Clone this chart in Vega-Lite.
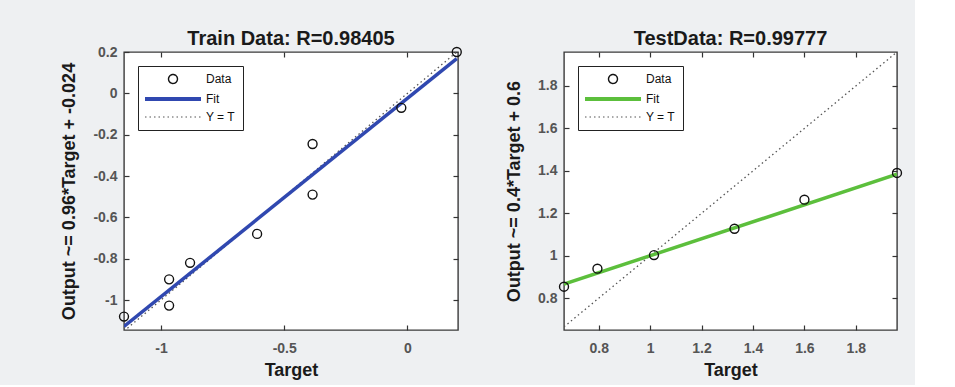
{
  "$schema": "https://vega.github.io/schema/vega-lite/v6.json",
  "background": "#eef0f2",
  "padding": {"left": 60, "top": 28, "right": 10, "bottom": 5},
  "bounds": "flush",
  "spacing": 106,
  "datasets": {
    "train": [
      {"series": "Data", "t": 0.2, "o": 0.2},
      {"series": "Data", "t": -0.025, "o": -0.07},
      {"series": "Data", "t": -0.385, "o": -0.245},
      {"series": "Data", "t": -0.385, "o": -0.49},
      {"series": "Data", "t": -0.61, "o": -0.68},
      {"series": "Data", "t": -0.882, "o": -0.82},
      {"series": "Data", "t": -0.967, "o": -0.9},
      {"series": "Data", "t": -0.967, "o": -1.027},
      {"series": "Data", "t": -1.15, "o": -1.08},
      {"series": "Fit", "t": -1.15, "o": -1.128},
      {"series": "Fit", "t": 0.2, "o": 0.168},
      {"series": "Y = T", "t": -1.15, "o": -1.15},
      {"series": "Y = T", "t": 0.2, "o": 0.2}
    ],
    "test": [
      {"series": "Data", "t": 1.96, "o": 1.39},
      {"series": "Data", "t": 1.6, "o": 1.264},
      {"series": "Data", "t": 1.328, "o": 1.127},
      {"series": "Data", "t": 1.015, "o": 1.003},
      {"series": "Data", "t": 0.795, "o": 0.939},
      {"series": "Data", "t": 0.665, "o": 0.854},
      {"series": "Fit", "t": 0.665, "o": 0.866},
      {"series": "Fit", "t": 1.96, "o": 1.384},
      {"series": "Y = T", "t": 0.665, "o": 0.665},
      {"series": "Y = T", "t": 1.96, "o": 1.96}
    ]
  },
  "config": {
    "font": "Liberation Sans",
    "view": {"stroke": "#3a3a3a", "strokeWidth": 1.4, "fill": "white"},
    "title": {"fontSize": 20, "fontWeight": "bold", "color": "#1a1a1a", "anchor": "middle"},
    "axis": {
      "grid": false, "domain": false, "tickSize": -5, "tickColor": "#333", "tickWidth": 1.2,
      "labelFontSize": 14, "labelFontWeight": "bold", "labelColor": "#555",
      "titleFontSize": 18, "titleFontWeight": "bold", "titleColor": "#1a1a1a"
    },
    "axisX": {"labelPadding": 16, "titlePadding": 6},
    "axisY": {"labelPadding": 12, "titlePadding": 14}
  },
  "resolve": {"scale": {"x": "independent", "y": "independent", "color": "independent"}},
  "hconcat": [
    {
      "width": 334, "height": 278,
      "title": {"text": "Train Data: R=0.98405", "offset": -4},
      "data": {"name": "train"},
      "layer": [
        {
          "transform": [{"filter": "datum.series === 'Y = T'"}],
          "mark": {"type": "line", "clip": true, "strokeDash": [1.5, 3], "strokeWidth": 1.3},
          "encoding": {
            "x": {"field": "t", "type": "quantitative", "scale": {"domain": [-1.15, 0.205], "nice": false, "zero": false},
                  "axis": {"orient": "top", "labels": false, "title": null, "values": [-1, -0.5, 0]}},
            "y": {"field": "o", "type": "quantitative", "scale": {"domain": [-1.145, 0.2], "nice": false, "zero": false},
                  "axis": {"orient": "right", "labels": false, "title": null, "values": [-1, -0.8, -0.6, -0.4, -0.2, 0, 0.2]}},
            "color": {"field": "series", "type": "nominal",
              "scale": {"domain": ["Data", "Fit", "Y = T"], "range": ["#111111", "#3048b0", "#555555"]},
              "legend": {
                "title": null, "orient": "top-left", "offset": 14, "padding": 7,
                "strokeColor": "#222", "fillColor": "white", "cornerRadius": 0,
                "symbolSize": 3136, "symbolType": "stroke",
                "labelFontSize": 12, "labelColor": "#111", "labelOffset": 4, "rowPadding": 4,
                "encode": {
                  "symbols": {"update": {
                    "x": {"value": 28},
                    "shape": {"signal": "datum.value === 'Data' ? 'circle' : 'stroke'"},
                    "size": {"signal": "datum.value === 'Data' ? 80 : 3136"},
                    "strokeWidth": {"signal": "datum.value === 'Fit' ? 4 : (datum.value === 'Data' ? 1.4 : 1.2)"},
                    "strokeDash": {"signal": "datum.value === 'Y = T' ? [1.5, 3] : [1, 0]"},
                    "stroke": {"signal": "datum.value === 'Fit' ? '#3048b0' : (datum.value === 'Data' ? '#111111' : '#555555')"},
                    "fill": {"value": "transparent"},
                    "opacity": {"value": 1}
                  }},
                  "labels": {"update": {"x": {"value": 61}}}
                }
              }}
          }
        },
        {
          "transform": [{"filter": "datum.series === 'Fit'"}],
          "mark": {"type": "line", "clip": true, "strokeWidth": 3.5},
          "encoding": {
            "x": {"field": "t", "type": "quantitative", "axis": null},
            "y": {"field": "o", "type": "quantitative", "axis": null},
            "color": {"field": "series", "type": "nominal"}
          }
        },
        {
          "transform": [{"filter": "datum.series === 'Data'"}],
          "mark": {"type": "point", "filled": false, "size": 80, "strokeWidth": 1.4, "opacity": 1},
          "encoding": {
            "x": {"field": "t", "type": "quantitative",
                  "axis": {"orient": "bottom", "title": "Target", "values": [-1, -0.5, 0], "labelExpr": "'' + datum.value"}},
            "y": {"field": "o", "type": "quantitative",
                  "axis": {"orient": "left", "title": "Output ~= 0.96*Target + -0.024", "values": [-1, -0.8, -0.6, -0.4, -0.2, 0, 0.2], "labelExpr": "'' + datum.value"}},
            "color": {"field": "series", "type": "nominal"}
          }
        }
      ]
    },
    {
      "width": 333, "height": 278,
      "title": {"text": "TestData: R=0.99777", "offset": 2},
      "data": {"name": "test"},
      "layer": [
        {
          "transform": [{"filter": "datum.series === 'Y = T'"}],
          "mark": {"type": "line", "clip": true, "strokeDash": [1.5, 3], "strokeWidth": 1.3},
          "encoding": {
            "x": {"field": "t", "type": "quantitative", "scale": {"domain": [0.665, 1.96], "nice": false, "zero": false},
                  "axis": {"orient": "top", "labels": false, "title": null, "values": [0.8, 1, 1.2, 1.4, 1.6, 1.8]}},
            "y": {"field": "o", "type": "quantitative", "scale": {"domain": [0.65, 1.96], "nice": false, "zero": false},
                  "axis": {"orient": "right", "labels": false, "title": null, "values": [0.8, 1, 1.2, 1.4, 1.6, 1.8]}},
            "color": {"field": "series", "type": "nominal",
              "scale": {"domain": ["Data", "Fit", "Y = T"], "range": ["#111111", "#5cbf3c", "#555555"]},
              "legend": {
                "title": null, "orient": "top-left", "offset": 14, "padding": 7,
                "strokeColor": "#222", "fillColor": "white", "cornerRadius": 0,
                "symbolSize": 3136, "symbolType": "stroke",
                "labelFontSize": 12, "labelColor": "#111", "labelOffset": 4, "rowPadding": 4,
                "encode": {
                  "symbols": {"update": {
                    "x": {"value": 28},
                    "shape": {"signal": "datum.value === 'Data' ? 'circle' : 'stroke'"},
                    "size": {"signal": "datum.value === 'Data' ? 80 : 3136"},
                    "strokeWidth": {"signal": "datum.value === 'Fit' ? 4 : (datum.value === 'Data' ? 1.4 : 1.2)"},
                    "strokeDash": {"signal": "datum.value === 'Y = T' ? [1.5, 3] : [1, 0]"},
                    "stroke": {"signal": "datum.value === 'Fit' ? '#5cbf3c' : (datum.value === 'Data' ? '#111111' : '#555555')"},
                    "fill": {"value": "transparent"},
                    "opacity": {"value": 1}
                  }},
                  "labels": {"update": {"x": {"value": 61}}}
                }
              }}
          }
        },
        {
          "transform": [{"filter": "datum.series === 'Fit'"}],
          "mark": {"type": "line", "clip": true, "strokeWidth": 3.5},
          "encoding": {
            "x": {"field": "t", "type": "quantitative", "axis": null},
            "y": {"field": "o", "type": "quantitative", "axis": null},
            "color": {"field": "series", "type": "nominal"}
          }
        },
        {
          "transform": [{"filter": "datum.series === 'Data'"}],
          "mark": {"type": "point", "filled": false, "size": 80, "strokeWidth": 1.4, "opacity": 1},
          "encoding": {
            "x": {"field": "t", "type": "quantitative",
                  "axis": {"orient": "bottom", "title": "Target", "values": [0.8, 1, 1.2, 1.4, 1.6, 1.8], "labelExpr": "'' + datum.value"}},
            "y": {"field": "o", "type": "quantitative",
                  "axis": {"orient": "left", "title": "Output ~= 0.4*Target + 0.6", "values": [0.8, 1, 1.2, 1.4, 1.6, 1.8], "labelExpr": "'' + datum.value"}},
            "color": {"field": "series", "type": "nominal"}
          }
        }
      ]
    }
  ]
}
